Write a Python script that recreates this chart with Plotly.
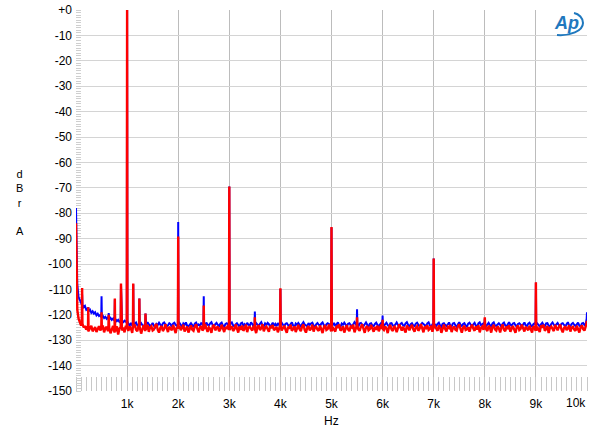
import plotly.graph_objects as go

# ---------------- data ----------------
floor_step_hz = 25  # FFT floor sampled every 25 Hz, 0 .. 10000 Hz

blue_floor = [
    # 0 .. 1000 Hz
    -78.0, -108.0, -113.0, -114.5, -115.5, -116.0, -117.0, -116.5, -118.0, -117.5,
    -118.5, -118.0, -119.2, -118.6, -119.5, -119.0, -120.2, -119.6, -120.5, -120.1,
    -121.0, -120.4, -121.3, -120.8, -121.6, -121.0, -121.8, -121.2, -122.0, -121.5,
    -122.3, -121.8, -122.5, -122.0, -122.8, -122.2, -122.6, -122.9, -122.3, -122.7,
    -122.4,
    # 1025 .. 2000
    -123.6, -124.3, -123.2, -124.0, -124.7, -123.5, -123.0, -124.2, -124.6, -123.8,
    -123.3, -124.1, -124.8, -123.4, -124.2, -122.9, -123.7, -124.5, -124.0, -123.2,
    -124.3, -124.9, -123.6, -124.0, -123.1, -124.2, -124.7, -123.4, -123.0, -123.8,
    -124.5, -124.1, -123.3, -123.7, -124.8, -123.5, -123.1, -124.0, -124.4, -123.6,
    # 2025 .. 3000
    -123.2, -124.1, -124.7, -123.4, -124.0, -123.0, -124.3, -124.6, -123.7, -123.3,
    -124.0, -124.9, -123.5, -123.1, -124.2, -123.8, -124.5, -123.3, -123.6, -124.4,
    -124.7, -123.0, -123.9, -124.2, -123.4, -122.9, -124.1, -124.6, -123.7, -123.2,
    -124.0, -124.5, -123.5, -123.1, -124.3, -124.8, -123.6, -123.3, -123.9, -124.2,
    # 3025 .. 4000
    -123.5, -123.0, -124.2, -124.6, -123.8, -123.3, -124.0, -124.9, -123.4, -123.1,
    -124.3, -123.7, -124.5, -123.2, -123.9, -124.4, -123.0, -123.6, -124.7, -124.1,
    -123.3, -123.8, -124.5, -123.5, -122.9, -124.2, -124.6, -123.4, -124.0, -123.2,
    -123.7, -124.8, -123.9, -123.1, -124.3, -123.6, -124.5, -123.3, -124.0, -123.8,
    # 4025 .. 5000
    -123.1, -124.2, -124.7, -123.5, -123.3, -124.0, -124.4, -123.7, -123.0, -124.3,
    -124.8, -123.4, -123.9, -123.2, -124.1, -124.6, -123.6, -122.9, -123.8, -124.3,
    -124.5, -123.3, -124.0, -123.4, -123.1, -124.2, -124.9, -123.7, -123.2, -123.9,
    -124.4, -123.5, -123.0, -124.1, -124.7, -123.8, -123.3, -123.6, -124.3, -123.4,
    # 5025 .. 6000
    -124.0, -123.2, -124.5, -123.7, -123.0, -124.3, -124.8, -123.4, -123.9, -123.1,
    -124.2, -124.6, -123.5, -123.3, -124.0, -124.4, -123.8, -122.9, -123.6, -124.3,
    -124.7, -123.4, -123.2, -124.1, -124.5, -123.7, -123.0, -123.9, -124.8, -123.5,
    -123.3, -124.2, -124.4, -123.6, -123.1, -124.0, -124.6, -123.8, -123.2, -123.7,
    # 6025 .. 7000
    -124.3, -123.5, -123.1, -124.0, -124.7, -123.4, -123.3, -124.2, -124.5, -123.8,
    -123.0, -123.9, -124.8, -123.6, -123.2, -124.1, -124.3, -123.4, -122.9, -124.0,
    -124.6, -123.7, -123.3, -124.2, -124.4, -123.5, -123.1, -123.9, -124.7, -123.8,
    -123.2, -123.6, -124.3, -124.5, -123.4, -123.0, -124.1, -124.8, -123.7, -123.3,
    # 7025 .. 8000
    -123.9, -124.4, -123.6, -123.1, -124.2, -124.7, -123.5, -123.3, -124.0, -124.5,
    -123.8, -123.0, -124.3, -124.6, -123.4, -123.2, -124.1, -124.8, -123.7, -122.9,
    -124.0, -124.4, -123.6, -123.3, -124.2, -124.7, -123.5, -123.1, -123.9, -124.5,
    -123.8, -123.2, -124.3, -124.6, -123.4, -123.0, -124.1, -123.7, -123.3, -124.0,
    # 8025 .. 9000
    -124.5, -123.6, -123.2, -124.1, -124.7, -123.4, -123.0, -124.3, -124.4, -123.8,
    -123.3, -123.9, -124.8, -123.5, -123.1, -124.2, -124.6, -123.7, -122.9, -124.0,
    -124.3, -123.4, -123.2, -124.1, -124.7, -123.6, -123.3, -123.9, -124.5, -123.8,
    -123.0, -124.2, -124.4, -123.5, -123.1, -124.0, -124.8, -123.7, -123.3, -123.9,
    # 9025 .. 10000
    -123.4, -124.2, -124.6, -123.7, -123.1, -124.0, -124.5, -123.4, -123.3, -124.3,
    -124.7, -123.6, -123.0, -123.9, -124.4, -123.8, -123.2, -124.1, -124.8, -123.5,
    -123.3, -124.0, -124.6, -123.7, -122.9, -124.2, -124.4, -123.6, -123.2, -123.9,
    -124.5, -123.8, -123.1, -124.3, -124.7, -123.4, -123.2, -124.0, -123.6, -121.5,
]

red_floor = [
    # 0 .. 1000 Hz
    -84.0, -118.0, -121.5, -123.0, -124.2, -123.5, -125.0, -124.4, -125.8, -124.6,
    -126.2, -125.1, -124.3, -126.5, -125.4, -124.8, -126.8, -125.2, -124.5, -126.1,
    -125.6, -124.2, -126.9, -125.3, -124.7, -126.4, -125.0, -127.3, -125.5, -124.4,
    -126.6, -125.1, -124.6, -127.8, -125.4, -124.8, -126.2, -125.0, -126.9, -124.3,
    -125.2,
    # 1025 .. 2000
    -126.3, -124.6, -125.4, -127.1, -124.9, -123.8, -125.9, -126.5, -124.3, -125.2,
    -127.4, -125.6, -124.1, -126.0, -125.3, -123.9, -126.7, -125.0, -124.5, -126.2,
    -125.8, -124.2, -123.6, -125.9, -127.0, -125.1, -124.4, -126.4, -125.5, -123.7,
    -125.0, -126.8, -124.7, -125.6, -126.1, -124.0, -125.3, -127.2, -124.8, -125.5,
    # 2025 .. 3000
    -124.3, -126.0, -125.2, -123.9, -126.6, -125.4, -124.6, -127.0, -125.1, -124.2,
    -125.8, -126.3, -124.7, -123.8, -125.5, -126.9, -125.0, -124.4, -126.2, -125.6,
    -123.7, -125.3, -126.7, -124.9, -125.4, -127.1, -124.5, -124.0, -126.1, -125.2,
    -124.6, -126.5, -125.7, -123.9, -125.0, -126.8, -124.8, -125.5, -124.1, -126.0,
    # 3025 .. 4000
    -125.1, -124.5, -126.4, -125.7, -123.8, -125.2, -127.0, -124.6, -125.9, -124.2,
    -126.3, -125.4, -123.9, -126.8, -125.0, -124.7, -125.6, -126.2, -124.3, -125.8,
    -127.2, -124.9, -124.1, -126.0, -125.3, -123.7, -126.5, -125.1, -124.6, -125.9,
    -126.7, -124.4, -125.2, -124.0, -126.1, -125.5, -124.8, -126.9, -125.3, -124.2,
    # 4025 .. 5000
    -126.2, -125.0, -124.3, -125.8, -127.1, -124.7, -125.4, -123.9, -126.3, -125.6,
    -124.5, -126.8, -125.2, -124.0, -125.7, -126.4, -124.6, -123.8, -125.9, -127.0,
    -125.1, -124.4, -126.1, -125.5, -123.9, -126.6, -125.0, -124.7, -125.8, -126.3,
    -124.2, -125.4, -127.2, -124.9, -124.1, -126.0, -125.6, -123.8, -125.2, -126.5,
    # 5025 .. 6000
    -124.8, -125.9, -126.6, -124.3, -125.1, -123.8, -126.2, -125.7, -124.5, -127.0,
    -125.3, -124.1, -125.8, -126.4, -124.6, -125.0, -123.9, -126.9, -125.4, -124.2,
    -125.7, -126.3, -124.8, -123.7, -125.5, -127.1, -125.0, -124.4, -126.1, -125.6,
    -124.0, -125.2, -126.7, -124.7, -125.9, -124.3, -126.5, -125.1, -123.9, -125.6,
    # 6025 .. 7000
    -126.0, -124.6, -125.3, -127.2, -124.9, -124.0, -125.8, -126.4, -124.4, -125.1,
    -126.8, -125.5, -123.8, -125.0, -126.2, -124.7, -125.6, -127.0, -124.2, -125.3,
    -126.1, -124.8, -123.9, -125.7, -126.6, -125.0, -124.5, -126.3, -125.4, -123.7,
    -125.9, -126.9, -124.6, -125.2, -124.1, -126.0, -125.5, -124.3, -126.7, -125.1,
    # 7025 .. 8000
    -124.5, -125.8, -126.3, -124.2, -125.0, -127.1, -125.4, -123.9, -125.6, -126.5,
    -124.7, -125.2, -124.0, -126.8, -125.3, -124.6, -125.9, -126.2, -124.4, -123.8,
    -125.5, -127.0, -125.1, -124.3, -126.0, -125.7, -124.8, -126.6, -125.0, -123.9,
    -125.4, -126.3, -124.5, -125.8, -124.1, -126.9, -125.2, -124.6, -125.9, -124.0,
    # 8025 .. 9000
    -125.6, -126.4, -124.3, -125.1, -127.0, -124.8, -124.0, -125.7, -126.2, -124.5,
    -125.3, -126.9, -125.0, -123.8, -125.9, -126.5, -124.6, -125.2, -124.1, -126.7,
    -125.4, -124.4, -125.8, -127.1, -124.9, -124.2, -126.0, -125.5, -123.9, -125.1,
    -126.6, -124.7, -125.3, -126.1, -124.3, -125.8, -127.0, -124.5, -125.0, -126.3,
    # 9025 .. 10000
    -124.7, -125.5, -126.8, -124.2, -125.0, -123.9, -126.3, -125.6, -124.4, -127.2,
    -125.1, -124.6, -125.9, -126.4, -124.0, -125.3, -126.1, -124.8, -123.8, -125.7,
    -126.9, -125.2, -124.5, -126.0, -125.4, -124.1, -126.6, -125.0, -124.7, -125.8,
    -126.3, -124.3, -125.5, -127.0, -124.9, -124.2, -125.6, -126.2, -124.6, -123.0,
]

peak_freqs = [120, 240, 500, 640, 760, 880, 1000, 1120, 1240, 1360, 2000, 2500,
              3000, 3500, 4000, 5000, 5500, 6000, 7000, 8000, 9000, 10000]
blue_peaks = [-112.0, -117.0, -112.7, -119.3, -114.0, -108.0, 0.0, -108.0, -113.6, -119.5,
              -83.5, -112.7, -69.5, -118.7, -109.8, -85.6, -117.8, -120.3, -97.8, -121.5,
              -107.4, -119.0]
red_peaks = [-109.5, -117.0, -119.0, -120.0, -113.6, -107.7, 0.0, -107.7, -113.6, -119.5,
             -89.2, -116.3, -69.5, -121.0, -109.6, -85.4, -121.0, -122.0, -97.8, -121.0,
             -107.2, -122.5]

y_tick_vals = [0, -10, -20, -30, -40, -50, -60, -70, -80, -90, -100, -110, -120, -130, -140, -150]
y_tick_text = ["+0", "-10", "-20", "-30", "-40", "-50", "-60", "-70", "-80", "-90",
               "-100", "-110", "-120", "-130", "-140", "-150"]
x_tick_vals = [1000, 2000, 3000, 4000, 5000, 6000, 7000, 8000, 9000, 10000]
x_tick_text = ["1k", "2k", "3k", "4k", "5k", "6k", "7k", "8k", "9k", "10k"]

assert len(blue_floor) == 401 and len(red_floor) == 401


def build_series(floor, peak_levels):
    pts = {}
    for i, v in enumerate(floor):
        pts[float(i * floor_step_hz)] = v
    for f, v in zip(peak_freqs, peak_levels):
        base = floor[min(len(floor) - 1, int(round(f / floor_step_hz)))]
        pts.setdefault(float(f - 6), base)
        pts.setdefault(float(f + 6), base)
        pts[float(f)] = v
    xs = sorted(pts)
    return xs, [pts[x] for x in xs]


bx, by = build_series(blue_floor, blue_peaks)
rx, ry = build_series(red_floor, red_peaks)

fig = go.Figure()
fig.add_trace(go.Scatter(x=bx, y=by, mode="lines", line=dict(color="#0000ff", width=2),
                         showlegend=False, hoverinfo="skip"))
fig.add_trace(go.Scatter(x=rx, y=ry, mode="lines", line=dict(color="#ff0000", width=2.4),
                         showlegend=False, hoverinfo="skip"))

FONT = "Liberation Sans, Arial, sans-serif"
L, R, T, B = 76, 13, 10, 44
W, H = 600, 435
PW, PH = W - L - R, H - T - B


def px(xpix, ypix):
    return (xpix - L) / PW, (H - B - ypix) / PH


x_labels = x_tick_text[:-1] + [""]

fig.update_layout(
    width=W, height=H,
    margin=dict(l=L, r=R, t=T, b=B, pad=0),
    paper_bgcolor="white", plot_bgcolor="white",
    font=dict(family=FONT, size=12, color="black"),
    xaxis=dict(
        range=[0, 10000], tickvals=x_tick_vals, ticktext=x_labels, automargin=False,
        showgrid=True, gridcolor="#bcbcbc", gridwidth=1, zeroline=False,
        ticks="", showline=False, ticklabelstandoff=4, layer="below traces",
        minor=dict(ticks="inside", dtick=100, tick0=0, ticklen=14,
                   tickcolor="#c8c8c8", tickwidth=1, showgrid=False),
    ),
    yaxis=dict(
        range=[-150, 0], tickvals=y_tick_vals, ticktext=y_tick_text, automargin=False,
        showgrid=True, gridcolor="#d4d4d4", gridwidth=1, zeroline=False,
        ticks="", showline=False, ticklabelstandoff=3, layer="below traces",
        minor=dict(ticks="inside", dtick=1, tick0=0, ticklen=5,
                   tickcolor="#cfcfcf", tickwidth=1, showgrid=False),
    ),
)

# last x label pulled inside the figure, as in the original
_, ky = px(0, 403)
fig.add_annotation(text=x_tick_text[-1], x=x_tick_vals[-1], y=ky, xref="x", yref="paper",
                   showarrow=False, xanchor="right", yanchor="middle", xshift=1,
                   font=dict(family=FONT, size=12, color="black"))

# axis titles
hx, hy = px(331, 421)
fig.add_annotation(text="Hz", x=hx, y=hy, xref="paper", yref="paper",
                   showarrow=False, xanchor="center", yanchor="middle",
                   font=dict(family=FONT, size=12, color="black"))
dx, dy = px(20, 202)
fig.add_annotation(text="d<br>B<br>r<br><br>A", x=dx, y=dy, xref="paper", yref="paper",
                   showarrow=False, xanchor="center", yanchor="middle", align="center",
                   font=dict(family=FONT, size=11, color="black"))

# Ap logo
lx, ly = px(566, 23)
fig.add_annotation(text="<b><i>Ap</i></b>", x=lx, y=ly, xref="paper", yref="paper",
                   showarrow=False, xanchor="center", yanchor="middle",
                   font=dict(family=FONT, size=18, color="#1f78be"))
p = [px(557, 35), px(570, 36), px(583, 31), px(583, 23), px(583, 18), px(579, 14), px(574, 13)]
path = "M {0[0]},{0[1]} C {1[0]},{1[1]} {2[0]},{2[1]} {3[0]},{3[1]} C {4[0]},{4[1]} {5[0]},{5[1]} {6[0]},{6[1]}".format(*p)
fig.add_shape(type="path", path=path, xref="paper", yref="paper",
              line=dict(color="#1f78be", width=2))

fig.write_html("out.html")
